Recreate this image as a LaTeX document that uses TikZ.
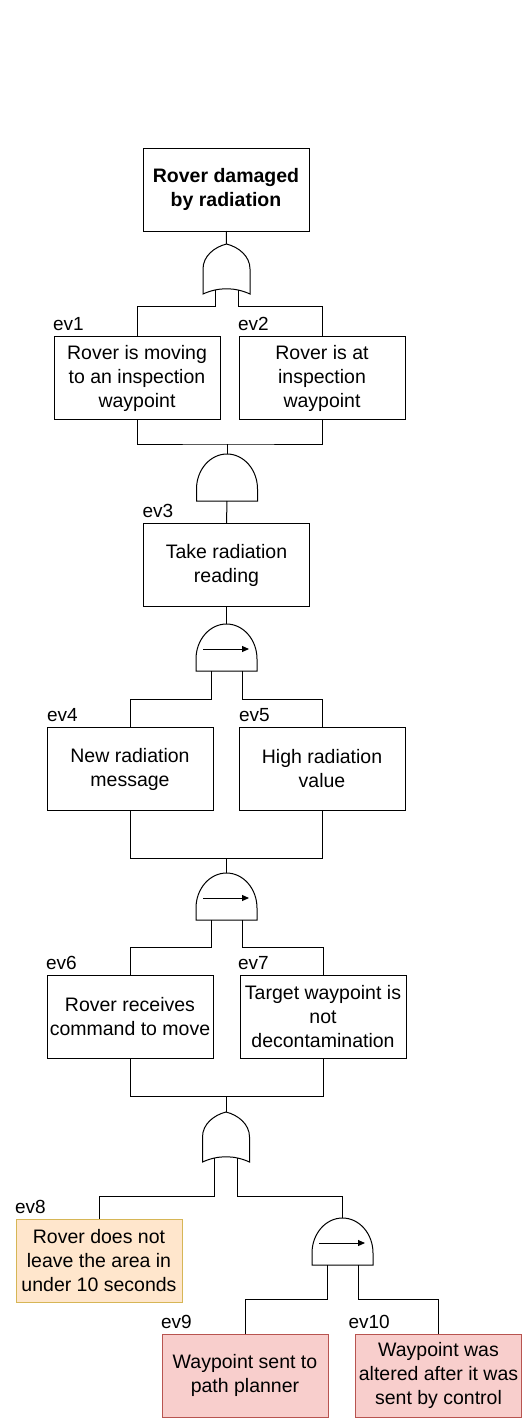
\documentclass[tikz,border=0pt]{standalone}
\usepackage{fontspec}
\setmainfont{Liberation Sans}
\usetikzlibrary{positioning,arrows.meta}
\definecolor{warnfill}{HTML}{FFE6CC}
\definecolor{warnline}{HTML}{D6B656}
\definecolor{basicfill}{HTML}{F8CECC}
\definecolor{basicline}{HTML}{B85450}

\begin{document}
\begin{tikzpicture}[x=1pt, y=-1pt, line width=1pt,
  every node/.style={align=center, inner sep=0pt, outer sep=0pt, font=\fontsize{19.5}{24}\selectfont},
  event/.style={draw, rectangle, minimum width=166pt, minimum height=83pt},
  evlabel/.style={font=\fontsize{19}{22}\selectfont},
  orgate/.pic={
    \draw (-23.5,50) -- (-23.5,25) .. controls (-23.5,12) and (-12,3) .. (0,0)
      .. controls (12,3) and (23.5,12) .. (23.5,25) -- (23.5,50)
      .. controls (8,43) and (-8,43) .. (-23.5,50) -- cycle;
    \coordinate (-top) at (0,0);
    \coordinate (-l) at (-11.5,46);
    \coordinate (-r) at (11.5,46);
  },
  andgate/.pic={
    \draw (-30.5,47) -- (-30.5,35) .. controls (-30.5,15.7) and (-16.8,0) .. (0,0)
      .. controls (16.8,0) and (30.5,15.7) .. (30.5,35) -- (30.5,47) -- cycle;
    \coordinate (-top) at (0,0);
    \coordinate (-bot) at (0,47);
  },
  pandgate/.pic={
    \draw (-30.5,47) -- (-30.5,35) .. controls (-30.5,15.7) and (-16.8,0) .. (0,0)
      .. controls (16.8,0) and (30.5,15.7) .. (30.5,35) -- (30.5,47) -- cycle;
    \draw[-{Triangle[length=7pt,width=6pt]}] (-23.5,25) -- (22.5,25);
    \coordinate (-top) at (0,0);
    \coordinate (-l) at (-15.5,47);
    \coordinate (-r) at (15.5,47);
  }]
\useasboundingbox (0,0) rectangle (522,1418);

% events
\node (top) [event] at (226,189.5) {\textbf{Rover damaged}\\\textbf{by radiation}};
\node (e1) [event] at (137,378) {Rover is moving\\to an inspection\\waypoint};
\node (e2) [event] at (322,378) {Rover is at\\inspection\\waypoint};
\node (e3) [event] at (226.5,565) {Take radiation\\reading};
\node (e4) [event] at (130,769) {New radiation\\message};
\node (e5) [event] at (322,769) {High radiation\\value};
\node (e6) [event] at (130,1016.5) {Rover receives\\command to move};
\node (e7) [event] at (323,1016.5) {Target waypoint is\\not\\decontamination};
\node (e8) [event, fill=warnfill, draw=warnline] at (99,1260.5) {Rover does not\\leave the area in\\under 10 seconds};
\node (e9) [event, fill=basicfill, draw=basicline] at (245,1375.5) {Waypoint sent to\\path planner};
\node (e10) [event, fill=basicfill, draw=basicline] at (438.5,1375.5) {Waypoint was\\altered after it was\\sent by control};

% labels
\node (l1) [evlabel, above right=5.5pt and -1pt of e1.north west] {ev1};
\node (l2) [evlabel, above right=5.5pt and -1pt of e2.north west] {ev2};
\node (l3) [evlabel, above right=5.5pt and -1pt of e3.north west] {ev3};
\node (l4) [evlabel, above right=5.5pt and 0pt of e4.north west] {ev4};
\node (l5) [evlabel, above right=5.5pt and 0pt of e5.north west] {ev5};
\node (l6) [evlabel, above right=5.5pt and -1pt of e6.north west] {ev6};
\node (l7) [evlabel, above right=5.5pt and -2pt of e7.north west] {ev7};
\node (l8) [evlabel, above right=5.5pt and -1pt of e8.north west] {ev8};
\node (l9) [evlabel, above right=5.5pt and -1pt of e9.north west] {ev9};
\node (l10) [evlabel, above right=5.5pt and -7pt of e10.north west] {ev10};

% gates
\pic (g1) at (226.5,244) {orgate};
\pic (g2) at (227,454) {andgate};
\pic (g3) at (226.5,624) {pandgate};
\pic (g4) at (226.5,873) {pandgate};
\pic (g5) at (226,1112) {orgate};
\pic (g6) at (342.5,1218) {pandgate};

% junctions
\coordinate (j1) at (226.5,306);
\coordinate (j2) at (227,444);
\coordinate (j3) at (226.5,699);
\coordinate (j4) at (226.5,858);
\coordinate (j5) at (226.5,947);
\coordinate (j6) at (226,1096);
\coordinate (j7) at (226,1196);
\coordinate (j8) at (342.5,1299);

% connectors
\draw (top) -- (g1-top);
\draw (g1-l) |- (e1.north |- j1) -- (e1.north);
\draw (g1-r) |- (e2.north |- j1) -- (e2.north);
\draw (e1.south) |- (j2) -| (e2.south);
\draw (j2) -- (g2-top);
\draw (g2-bot) -- (e3.north);
\draw (e3.south) -- (g3-top);
\draw (g3-l) |- (e4.north |- j3) -- (e4.north);
\draw (g3-r) |- (e5.north |- j3) -- (e5.north);
\draw (e4.south) |- (j4) -| (e5.south);
\draw (j4) -- (g4-top);
\draw (g4-l) |- (e6.north |- j5) -- (e6.north);
\draw (g4-r) |- (e7.north |- j5) -- (e7.north);
\draw (e6.south) |- (j6) -| (e7.south);
\draw (j6) -- (g5-top);
\draw (g5-l) |- (e8.north |- j7) -- (e8.north);
\draw (g5-r) |- (g6-top |- j7) -- (g6-top);
\draw (g6-l) |- (e9.north |- j8) -- (e9.north);
\draw (g6-r) |- (e10.north |- j8) -- (e10.north);
\end{tikzpicture}
\end{document}
